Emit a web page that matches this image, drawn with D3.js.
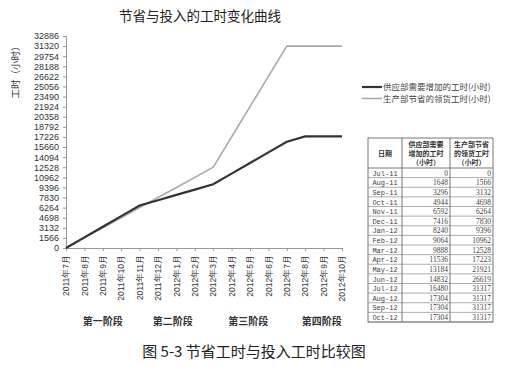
<!DOCTYPE html>
<html><head><meta charset="utf-8">
<script src="https://cdn.jsdelivr.net/npm/d3@7"></script>
<style>
body{margin:0;background:#fff;}
svg{font-family:"Noto Sans CJK SC","Noto Sans",sans-serif;}
</style></head>
<body><svg id="c" width="526" height="367"></svg>
<script>
const months = ["2011年7月","2011年8月","2011年9月","2011年10月","2011年11月","2011年12月","2012年1月","2012年2月","2012年3月","2012年4月","2012年5月","2012年6月","2012年7月","2012年8月","2012年9月","2012年10月"];
const tableDates = ["Jul-11","Aug-11","Sep-11","Oct-11","Nov-11","Dec-11","Jan-12","Feb-12","Mar-12","Apr-12","May-12","Jun-12","Jul-12","Aug-12","Sep-12","Oct-12"];
const supplyHours = [0,1648,3296,4944,6592,7416,8240,9064,9888,11536,13184,14832,16480,17304,17304,17304];
const savedHours = [0,1566,3132,4698,6264,7830,9396,10962,12528,17223,21921,26619,31317,31317,31317,31317];
const yTicks = [0,1566,3132,4698,6264,7830,9396,10962,12528,14094,15660,17226,18792,20358,21924,23490,25056,26622,28188,29754,31320,32886];
const seriesNames = ["供应部需要增加的工时(小时)","生产部节省的领货工时(小时)"];
const stages = ["第一阶段","第二阶段","第三阶段","第四阶段"];
const stageCenters = [2, 5.8, 9.9, 13.9];
const title = "节省与投入的工时变化曲线";
const caption = "图 5-3  节省工时与投入工时比较图";
const yTitle = "工时（小时）";
const tableHeaders = [["日期"],["供应部需要","增加的工时","（小时）"],["生产部节省","的领货工时","（小时）"]];

const svg = d3.select("#c");
const x = d3.scaleLinear().domain([0,15]).range([66,342]);
const y = d3.scaleLinear().domain([0,32886]).range([248,36]);

svg.append("text").attr("x",200).attr("y",21).attr("text-anchor","middle")
  .attr("font-size",13.5).attr("fill","#222").text(title);

// y axis
const ya = svg.append("g").attr("transform","translate(66,0)")
  .call(d3.axisLeft(y).tickValues(yTicks).tickFormat(d3.format("d")).tickSize(3).tickPadding(4));
ya.select(".domain").attr("stroke","#999");
ya.selectAll(".tick line").attr("stroke","#999");
ya.selectAll("text").attr("font-size",9).attr("fill","#333").attr("font-family","Liberation Sans, Arial, sans-serif");

// x axis
const xa = svg.append("g").attr("transform","translate(0,248)")
  .call(d3.axisBottom(x).tickValues(d3.range(16)).tickFormat(i=>months[i]).tickSize(3).tickPadding(3));
xa.select(".domain").attr("stroke","#999");
xa.selectAll(".tick line").attr("stroke","#999");
xa.selectAll("text").attr("font-size",8.5).attr("fill","#333")
  .attr("transform","rotate(-90)").attr("text-anchor","end").attr("dy","0.32em").attr("x",-7).attr("y",0);

svg.append("text").attr("transform","translate(19,70) rotate(-90)").attr("text-anchor","middle")
  .attr("font-size",9.5).attr("fill","#333").text(yTitle);

const line = d3.line().x((d,i)=>x(i)).y(d=>y(d));
svg.append("path").datum(savedHours).attr("d",line).attr("fill","none").attr("stroke","#aaa").attr("stroke-width",1.6);
svg.append("path").datum(supplyHours).attr("d",line).attr("fill","none").attr("stroke","#333").attr("stroke-width",2.2);

// stages
svg.selectAll(".stage").data(stages).enter().append("text")
  .attr("x",(d,i)=>x(stageCenters[i])).attr("y",325).attr("text-anchor","middle")
  .attr("font-size",10).attr("font-weight","bold").attr("fill","#333").text(d=>d);

// legend
const lg = svg.append("g");
[["#333",2.2],["#aaa",1.6]].forEach((s,i)=>{
  lg.append("line").attr("x1",362).attr("x2",382).attr("y1",87+i*11.5).attr("y2",87+i*11.5)
    .attr("stroke",s[0]).attr("stroke-width",s[1]);
  lg.append("text").attr("x",383).attr("y",90+i*11.5).attr("font-size",8.5).attr("fill","#444").text(seriesNames[i]);
});

// table
const tL=368, c1=402, c2=450, tR=493, hTop=138, hBot=168, rowH=(322-168)/16;
const tb = svg.append("g");
tb.append("rect").attr("x",tL).attr("y",hTop).attr("width",tR-tL).attr("height",322-hTop)
  .attr("fill","none").attr("stroke","#555").attr("stroke-width",0.8);
[c1,c2].forEach(cx=>tb.append("line").attr("x1",cx).attr("x2",cx).attr("y1",hTop).attr("y2",322).attr("stroke","#555").attr("stroke-width",0.8));
d3.range(17).forEach(i=>tb.append("line").attr("x1",tL).attr("x2",tR).attr("y1",hBot+i*rowH).attr("y2",hBot+i*rowH)
  .attr("stroke","#777").attr("stroke-width",i===0?1:0.6));
const colC=[(tL+c1)/2,(c1+c2)/2,(c2+tR)/2];
tableHeaders.forEach((lines,ci)=>{
  lines.forEach((t,li)=>{
    const yy = lines.length===1 ? 156 : 147+li*9;
    tb.append("text").attr("x",colC[ci]).attr("y",yy).attr("text-anchor","middle")
      .attr("font-size",7).attr("font-weight","bold").attr("fill","#333").text(t);
  });
});
tableDates.forEach((d,i)=>{
  const yy = hBot+(i+1)*rowH-2;
  tb.append("text").attr("x",colC[0]).attr("y",yy).attr("text-anchor","middle")
    .attr("font-size",7).attr("fill","#444").attr("font-family","Liberation Mono, monospace").text(d);
  tb.append("text").attr("x",c2-2).attr("y",yy).attr("text-anchor","end")
    .attr("font-size",7.5).attr("fill","#444").attr("font-family","Liberation Serif, serif").text(supplyHours[i]);
  tb.append("text").attr("x",tR-2).attr("y",yy).attr("text-anchor","end")
    .attr("font-size",7.5).attr("fill","#444").attr("font-family","Liberation Serif, serif").text(savedHours[i]);
});

svg.append("text").attr("x",254).attr("y",357).attr("text-anchor","middle")
  .attr("font-size",15).attr("fill","#222").text(caption);
</script></body></html>
